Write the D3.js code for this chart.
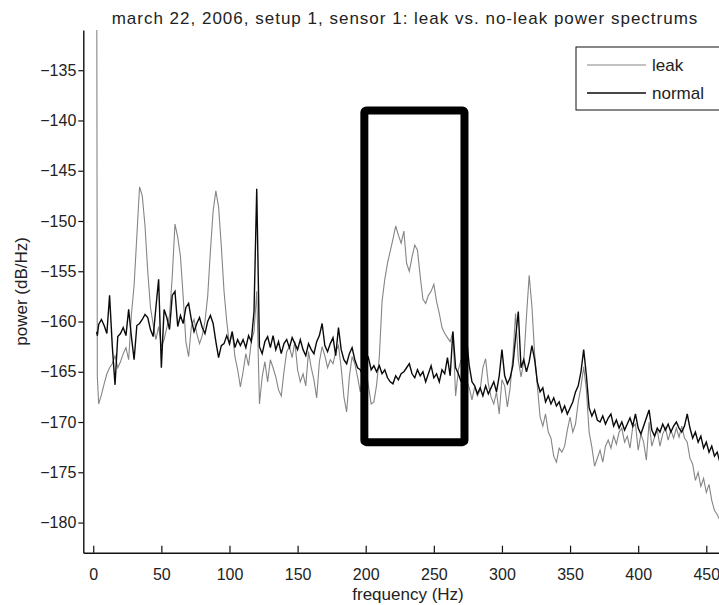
<!DOCTYPE html>
<html>
<head>
<meta charset="utf-8">
<script src="https://cdn.jsdelivr.net/npm/d3@7"></script>
<style>
  html, body { margin: 0; padding: 0; background: #fff; }
  svg { display: block; font-family: "Liberation Sans", Arial, sans-serif; }
</style>
</head>
<body>
<div id="chart"></div>
<script>
/* Data
======================================================================= */
var freq = [
  2.5, 3, 4, 6, 8, 10, 12, 14, 16, 18,
  20, 22, 24, 26, 28, 30, 32, 34, 36, 38,
  40, 42, 44, 46, 48, 50, 52, 54, 56, 58,
  60, 62, 64, 66, 68, 70, 72, 74, 76, 78,
  80, 82, 84, 86, 88, 90, 92, 94, 96, 98,
  100, 102, 104, 106, 108, 110, 112, 114, 116, 118,
  120, 122, 124, 126, 128, 130, 132, 134, 136, 138,
  140, 142, 144, 146, 148, 150, 152, 154, 156, 158,
  160, 162, 164, 166, 168, 170, 172, 174, 176, 178,
  180, 182, 184, 186, 188, 190, 192, 194, 196, 198,
  200, 202, 204, 206, 208, 210, 212, 214, 216, 218,
  220, 222, 224, 226, 228, 230, 232, 234, 236, 238,
  240, 242, 244, 246, 248, 250, 252, 254, 256, 258,
  260, 262, 264, 266, 268, 270, 272, 274, 276, 278,
  280, 282, 284, 286, 288, 290, 292, 294, 296, 298,
  300, 302, 304, 306, 308, 310, 312, 314, 316, 318,
  320, 322, 324, 326, 328, 330, 332, 334, 336, 338,
  340, 342, 344, 346, 348, 350, 352, 354, 356, 358,
  360, 362, 364, 366, 368, 370, 372, 374, 376, 378,
  380, 382, 384, 386, 388, 390, 392, 394, 396, 398,
  400, 402, 404, 406, 408, 410, 412, 414, 416, 418,
  420, 422, 424, 426, 428, 430, 432, 434, 436, 438,
  440, 442, 444, 446, 448, 450, 452, 454, 456, 458,
  460, 462, 464, 466
];

// leak spectrum, dB/Hz
var leak = [
  -120, -165.5, -168.2, -167.3, -166.2, -165.2, -164.6, -164.2, -163.4, -164.6,
  -164, -163.2, -162.6, -163.8, -159.3, -156.4, -151.5, -146.6, -147.5, -150.5,
  -155, -158.6, -160.3, -161.8, -160.5, -162.5, -161.8, -160.6, -159.4, -155.5,
  -150.3, -151.6, -153.5, -157.5, -162, -163.5, -160.5, -159.8, -161.2, -162.2,
  -161.4, -160, -157.5, -153, -149, -147, -148.6, -152.5, -157, -160,
  -162.4, -161, -163.5, -164.8, -166.5, -165, -163.2, -164.4, -162, -161,
  -157, -168.2, -165.5, -164, -166, -163.8, -164.6, -165.5, -166.8, -167.4,
  -165, -163, -162.5, -163.6, -162, -164.8, -166, -165.2, -166.4, -163,
  -164.6, -165.8, -167.6, -164, -162.5, -163.4, -164.6, -163.8, -164.2, -163,
  -162.4, -164.6, -167.5, -169, -165.5, -163.5, -164.2, -165.5, -167, -165.2,
  -164.5, -166.4, -168.2, -168, -166.3, -163.5, -158, -155.8, -154.2, -153,
  -151.8, -150.5, -151.4, -152.2, -151, -154.2, -155, -153.6, -152.4, -152.9,
  -155.5, -157.8, -158.2, -157.4, -157, -156.3, -158, -159.2, -160.6, -161.2,
  -161.6, -162, -161, -167.4, -164.8, -163.8, -165, -165.8, -166.6, -167.8,
  -166.5, -167.4, -166.8, -164.6, -163.7, -166.2, -167.5, -168.2, -167, -169.2,
  -165.8, -166.4, -168.5, -166.6, -163.5, -159.2, -163.8, -165.5, -164, -159.5,
  -155.4, -158.5, -163.2, -166.4, -169.5, -170.4, -169.2, -171, -171.6, -173.4,
  -174, -172.6, -173, -172.4, -170.8, -169.5, -171, -170.2, -168, -166.5,
  -164.5, -166.8, -171, -172.5, -174.4, -173.6, -172.8, -174, -172.4, -171.8,
  -172.6, -171.4, -172.2, -171, -170.6, -172, -171.4, -172.6, -170.5, -170.2,
  -172.8, -171.2, -172, -173.8, -170, -172.4, -171.5, -170.8, -172.4, -171.2,
  -170.6, -171.8, -170.8, -171.6, -170.6, -171.5, -170.4, -171.6, -172, -173.6,
  -174.2, -175.8, -175, -176.4, -175.6, -177, -176.2, -177.8, -178.8, -179.2,
  -179.8, -178.6, -180, -179.5
];

// no-leak (normal) spectrum, dB/Hz
var normal = [
  -161, -161.4, -160.3, -159.8, -160.4, -161.2, -157.4, -162.5, -166.3, -161.5,
  -161.2, -160.6, -161.4, -158.8, -161.5, -163.8, -160.4, -160.2, -159.8, -159.3,
  -159.6, -160.8, -161.5, -158.6, -155.8, -164.6, -158.8, -159.6, -160.8, -157.4,
  -157, -160.5, -159.4, -160.2, -158.6, -158.2, -159.8, -161, -160.2, -159.6,
  -160.6, -161.2, -160, -159.4, -160.2, -162, -163.6, -162.4, -162.2, -161.4,
  -162.2, -161, -162.6, -161.8, -162.4, -161.8, -162.6, -161.4, -162, -159,
  -146.8, -162.5, -163.2, -162, -161.5, -162.6, -161.4, -162.8, -162, -163.2,
  -162.2, -161.8, -162.6, -161.6, -162.2, -162.8, -161.8, -162.8, -163.4, -162.2,
  -162.8, -163.2, -162, -161.4, -160.2, -162.4, -163, -162.2, -161.6, -163.4,
  -160.6, -162.8, -163.8, -164.2, -163.2, -162.6, -163.8, -164.6, -164.8, -165.4,
  -164.2, -163.6, -164.8, -164.4, -165, -164.4, -165.2, -164.8, -165.6, -166,
  -166.2, -165.4, -165.8, -165.2, -165, -164.6, -164.2, -165.2, -165.6, -164.8,
  -165.4, -165, -166, -165.2, -164.4, -165.6, -165.2, -166, -164.8, -165.2,
  -163.6, -165.4, -161, -164.6, -165.2, -166, -164.4, -161.6, -164.4, -166,
  -166.4, -167.2, -166.6, -167.4, -166.4, -167.2, -166.6, -166, -167, -165.4,
  -162.8, -165.4, -166.2, -165.6, -164.4, -161.6, -159, -164.6, -163.8, -165,
  -164, -162.4, -163.8, -166, -167, -166.6, -168, -167.4, -168.2, -167.6,
  -168.4, -168, -169, -168.4, -169.2, -168.6, -168, -167, -166.4, -165,
  -162.8, -165.4, -168.6, -169.4, -168.8, -169.8, -170, -169.4, -170.2, -169.6,
  -169.2, -170.4, -169.8, -170.6, -170, -170.8, -170.2, -169.6, -170.4, -169.2,
  -170.6, -171.2, -170.4, -169.6, -168.8, -170.8, -171.4, -170.6, -171, -170.2,
  -170.8, -170.2, -171, -170.4, -170, -170.6, -171, -170.4, -169.2, -170.6,
  -171.6, -171, -172, -171.4, -172.6, -172, -173, -172.4, -173.4, -173,
  -174, -173.4, -174.2, -173.6
];

var xTicks = [0, 50, 100, 150, 200, 250, 300, 350, 400, 450];
var yTicks = [-180, -175, -170, -165, -160, -155, -150, -145, -140, -135];
var seriesNames = ['leak', 'normal'];
var seriesColors = ['#858585', '#0a0a0a'];
var boxFreq = [199, 272.5];   // highlighted band, Hz
var boxPower = [-139, -172];  // highlighted band, dB/Hz

/* Layout
======================================================================= */
var W = 719, H = 605,
    plotL = 83.3, plotR = 733, plotT = 30, plotB = 552.7;

var x = d3.scaleLinear().domain([-7.3, 469.6]).range([plotL, plotR]);
var y = d3.scaleLinear().domain([-183, -131]).range([plotB, plotT]);

var svg = d3.select('#chart').append('svg')
  .attr('width', W)
  .attr('height', H);

svg.append('defs').append('clipPath').attr('id', 'plot-clip')
  .append('rect')
  .attr('x', plotL).attr('y', plotT)
  .attr('width', plotR - plotL).attr('height', plotB - plotT);

/* Lines
======================================================================= */
var line = d3.line()
  .x(function(d) { return x(d[0]); })
  .y(function(d) { return y(d[1]); });

var plot = svg.append('g').attr('clip-path', 'url(#plot-clip)');

[leak, normal].forEach(function(vals, i) {
  plot.append('path')
    .datum(freq.map(function(f, j) { return [f, vals[j]]; }))
    .attr('fill', 'none')
    .attr('stroke', seriesColors[i])
    .attr('stroke-width', i === 0 ? 1.1 : 1.4)
    .attr('stroke-linejoin', 'miter')
    .attr('d', line);
});

// thick box round the leak band
svg.append('rect')
  .attr('x', x(boxFreq[0]))
  .attr('y', y(boxPower[0]))
  .attr('width', x(boxFreq[1]) - x(boxFreq[0]))
  .attr('height', y(boxPower[1]) - y(boxPower[0]))
  .attr('rx', 2)
  .attr('fill', 'none')
  .attr('stroke', '#000')
  .attr('stroke-width', 8);

/* Axes
======================================================================= */
var xAxis = svg.append('g')
  .attr('transform', 'translate(0,' + plotB + ')')
  .call(d3.axisBottom(x).tickValues(xTicks).tickSizeInner(-7).tickSizeOuter(0).tickPadding(16));

var yAxis = svg.append('g')
  .attr('transform', 'translate(' + plotL + ',0)')
  .call(d3.axisLeft(y).tickValues(yTicks).tickSizeInner(5).tickSizeOuter(0).tickPadding(2));

[xAxis, yAxis].forEach(function(g) {
  g.select('.domain').attr('stroke', '#111').attr('stroke-width', 1.4);
  g.selectAll('.tick line').attr('stroke', '#111').attr('stroke-width', 1.2);
  g.selectAll('.tick text')
    .attr('fill', '#222')
    .style('font-size', '16px')
    .style('font-family', '"Liberation Sans", Arial, sans-serif');
});

/* Labels
======================================================================= */
svg.append('text')
  .attr('x', 405).attr('y', 24)
  .attr('text-anchor', 'middle')
  .attr('fill', '#222')
  .style('font-size', '17px')
  .style('letter-spacing', '1px')
  .text('march 22, 2006, setup 1, sensor 1: leak vs. no-leak power spectrums');

svg.append('text')
  .attr('x', 408).attr('y', 600)
  .attr('text-anchor', 'middle')
  .attr('fill', '#222')
  .style('font-size', '17px')
  .text('frequency (Hz)');

svg.append('text')
  .attr('transform', 'translate(27,' + ((plotT + plotB) / 2) + ') rotate(-90)')
  .attr('text-anchor', 'middle')
  .attr('fill', '#222')
  .style('font-size', '17px')
  .text('power (dB/Hz)');

/* Legend
======================================================================= */
var legend = svg.append('g');

legend.append('rect')
  .attr('x', 576).attr('y', 47)
  .attr('width', 170).attr('height', 63)
  .attr('fill', '#fff')
  .attr('stroke', '#111')
  .attr('stroke-width', 1);

seriesNames.forEach(function(name, i) {
  var ly = 65 + i * 28;
  legend.append('line')
    .attr('x1', 587).attr('x2', 646)
    .attr('y1', ly).attr('y2', ly)
    .attr('stroke', seriesColors[i])
    .attr('stroke-width', i === 0 ? 1.1 : 1.4);
  legend.append('text')
    .attr('x', 652).attr('y', ly)
    .attr('dy', '0.35em')
    .attr('fill', '#222')
    .style('font-size', '17px')
    .text(name);
});
</script>
</body>
</html>
